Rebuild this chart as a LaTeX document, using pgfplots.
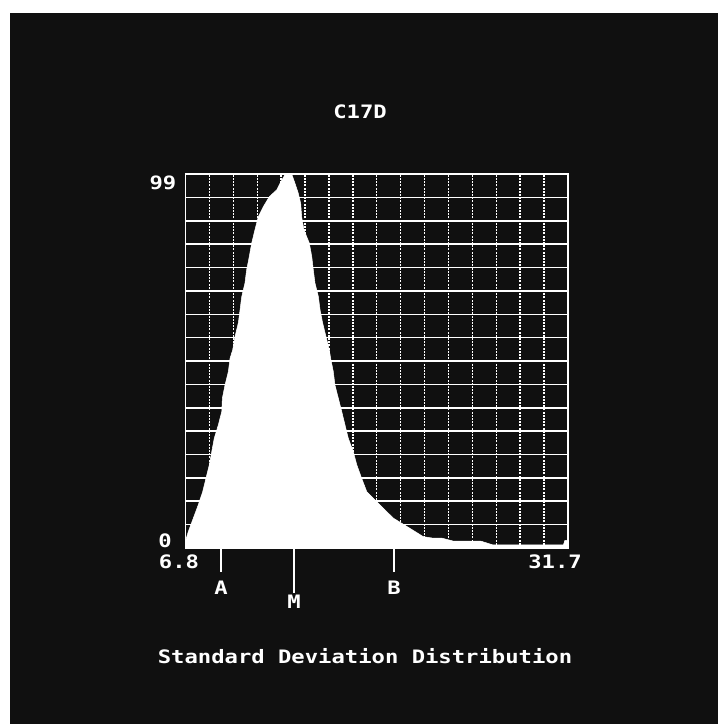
\documentclass[border=0pt]{standalone}
\usepackage{pgfplots}
\pgfplotsset{compat=1.18}
\usepackage{fontspec}
\setmainfont{DejaVu Sans Mono}
\definecolor{bg}{HTML}{101010}
\newcommand{\crt}[1]{\scalebox{1.2}[1]{\bfseries\fontsize{18.5bp}{20bp}\selectfont #1}}
\begin{document}
\begin{tikzpicture}[x=1bp,y=1bp]
\path[use as bounding box] (-185.5,-176) rectangle (532.5,548);
\fill[white] (-185.5,-176) rectangle (532.5,548);
\fill[bg] (-175.5,-176) rectangle (532.5,535);
\begin{axis}[
  at={(0,0)}, anchor=south west, scale only axis,
  width=382.5bp, height=374bp,
  xmin=6.8, xmax=31.7, ymin=0, ymax=99,
  axis line style={white, line width=1.8bp},
  ytick={0,6.1875,12.375,18.5625,24.75,30.9375,37.125,43.3125,49.5,55.6875,61.875,68.0625,74.25,80.4375,86.625,92.8125,99},
  yticklabels={}, ytick style={draw=none},
  ymajorgrids=true,
  major grid style={white, line width=1.5bp},
  xtick={9.14,20.39}, xticklabels={},
  xtick pos=bottom, tick align=outside,
  major tick length=24bp,
  xtick style={white, line width=2bp},
  extra x ticks={13.89}, extra x tick labels={},
  extra x tick style={major tick length=45bp},
  minor xtick={8.35625,9.9125,11.46875,13.025,14.58125,16.1375,17.69375,19.25,20.80625,22.3625,23.91875,25.475,27.03125,28.5875,30.14375},
  minor tick length=0pt,
  xminorgrids=true, xmajorgrids=false,
  minor grid style={white, line width=1.4bp, dash pattern=on 2bp off 1.2bp},
]
\addplot[fill=white, draw=white, line width=0.5bp] coordinates {
(6.8,0) (6.82,2.1) (6.98,4.3) (7.31,7.9) (7.63,11.4) (7.92,14.9) (8.13,18.4) (8.35,22.0) (8.51,25.5) (8.67,29.0) (8.94,32.6) (9.16,36.1) (9.20,39.6) (9.37,43.1) (9.59,46.7) (9.70,50.2) (9.87,52.4) (10.02,55.9) (10.24,59.6) (10.35,63.0) (10.46,66.5) (10.67,70.1) (10.78,73.6) (10.95,77.1) (11.11,80.7) (11.32,84.2) (11.54,87.7) (11.86,90.3) (12.26,93.0) (12.74,94.8) (12.95,96.5) (13.3,99) (13.71,99) (13.93,96.5) (14.14,93.9) (14.30,91.2) (14.36,87.7) (14.51,84.2) (14.86,80.7) (15.02,77.1) (15.12,73.6) (15.23,70.1) (15.45,66.5) (15.56,63.0) (15.73,59.5) (15.95,55.9) (16.16,52.4) (16.25,50.2) (16.42,46.7) (16.53,43.1) (16.75,39.6) (16.97,36.1) (17.18,32.6) (17.40,29.0) (17.72,25.5) (17.95,22.0) (18.27,18.4) (18.60,14.9) (19.46,11.4) (20.33,7.9) (21.41,5.2) (22.28,3.0) (22.91,2.6) (23.5,2.6) (24.21,1.85) (26.0,1.85) (26.82,0.8) (31.4,0.8) (31.5,2) (31.7,2) (31.7,0)
} \closedcycle;
\draw[white, line width=3bp] (axis cs:6.8,0) -- (axis cs:31.7,0);
\end{axis}
\begin{scope}[every node/.style={text=white, inner sep=0pt}]
\node at (174.5,436) {\crt{C17D}};
\node at (-22.5,365) {\crt{99}};
\node at (-20.5,7) {\crt{0}};
\node at (-6.5,-14) {\crt{6.8}};
\node at (369.5,-14) {\crt{31.7}};
\node at (35.5,-40) {\crt{A}};
\node at (108.5,-54) {\crt{M}};
\node at (208.5,-40) {\crt{B}};
\node at (179.5,-108) {\crt{Standard Deviation Distribution}};
\end{scope}
\end{tikzpicture}
\end{document}
